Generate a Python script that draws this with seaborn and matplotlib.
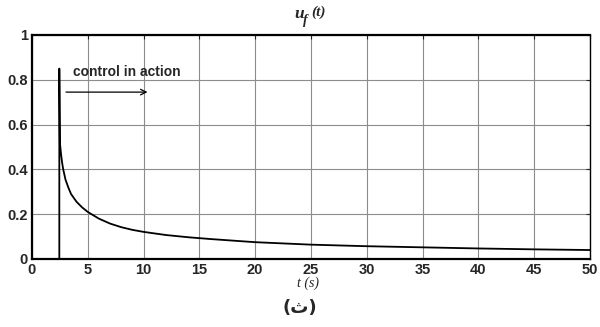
import numpy as np
import matplotlib.pyplot as plt
import pandas as pd
import seaborn as sb

# valores
t = [2.45, 2.45, 2.5, 2.6, 2.7, 2.8, 3.0, 3.25, 3.5, 4.0, 4.5, 5.0, 6.0, 7.0, 8.0, 9.0,
     10, 12, 14, 16, 18, 20, 25, 30, 35, 40, 45, 50]
u = [0.0, 0.85, 0.52, 0.47, 0.43, 0.40, 0.355, 0.32, 0.29, 0.255, 0.23, 0.21, 0.18, 0.158,
     0.142, 0.13, 0.121, 0.107, 0.097, 0.089, 0.082, 0.075, 0.064, 0.057, 0.052, 0.047, 0.043, 0.040]

x_ticks = [0, 5, 10, 15, 20, 25, 30, 35, 40, 45, 50]
y_ticks = [0, 0.2, 0.4, 0.6, 0.8, 1]
y_ticklabels = ["0", "0.2", "0.4", "0.6", "0.8", "1"]

data = pd.DataFrame({"t": t, "u": u})

sb.set_style("white")
plt.rcParams['font.family'] = ['Liberation Sans', 'DejaVu Sans']

fig = plt.figure(figsize=(6, 3.27), dpi=100)
ax = fig.add_axes([0.0533, 0.208, 0.930, 0.685])

sb.lineplot(data=data, x="t", y="u", sort=False, estimator=None, color="black", lw=1.3, ax=ax)

ax.set_xlim(0, 50)
ax.set_ylim(0, 1)
ax.set_xticks(x_ticks)
ax.set_yticks(y_ticks)
ax.set_yticklabels(y_ticklabels)
ax.grid(True, color="#8c8c8c", lw=0.8)
ax.tick_params(direction="in", length=3, labelsize=10.5, pad=3, top=True, right=True)
for lab in ax.get_xticklabels() + ax.get_yticklabels():
    lab.set_fontweight("bold")
for s in ["left", "bottom", "top"]:
    ax.spines[s].set_linewidth(1.6)
ax.spines["right"].set_linewidth(1.0)
for s in ax.spines.values():
    s.set_color("black")

ax.set_xlabel("")
ax.set_ylabel("")

# anotação
ax.text(3.7, 0.835, "control in action", fontsize=10, fontweight="bold", va="center")
ax.annotate("", xy=(10.6, 0.745), xytext=(2.8, 0.745),
            arrowprops=dict(arrowstyle="->", color="black", lw=0.9))

# título u_f(t)
fig.text(0.507, 0.956, "u", family="Liberation Serif", style="italic", fontweight="bold",
         fontsize=12.5, ha="right", va="center")
fig.text(0.505, 0.936, "f", family="Liberation Serif", style="italic", fontweight="bold",
         fontsize=10, ha="left", va="center")
fig.text(0.518, 0.963, "(t)", family="Liberation Serif", style="italic", fontweight="bold",
         fontsize=11, ha="left", va="center")
fig.text(0.513, 0.135, "t (s)", family="Liberation Serif", style="italic",
         fontsize=10, ha="center", va="center")
fig.text(0.5, 0.058, "(ث)", family="DejaVu Sans", fontweight="bold", fontsize=13,
         ha="center", va="center")

plt.savefig("out.png", dpi=100)
